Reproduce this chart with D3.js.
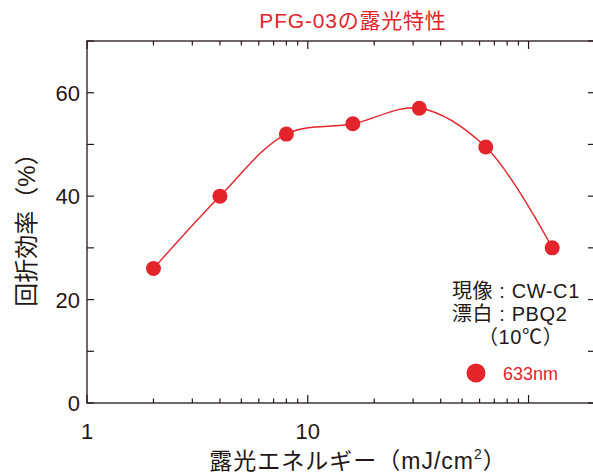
<!DOCTYPE html>
<html>
<head>
<meta charset="utf-8">
<script src="https://cdn.jsdelivr.net/npm/d3@7"></script>
<style>
  body { margin: 0; background: #fff; }
  svg { display: block; }
  text { font-family: "Liberation Sans", "Noto Sans CJK JP", sans-serif; }
</style>
</head>
<body>
<div id="chart"></div>
<script>
// exposure (mJ/cm2) vs diffraction efficiency (%)
var exposure = [2, 4, 8, 16, 32, 64, 128]
var efficiency = [26, 40, 52, 54, 57, 49.5, 30]
var xTickLabels = [1, 10]
var yTickLabels = [0, 20, 40, 60]

var red = "#e3242b"

var width = 593, height = 475
var margin = {top: 41, right: -2, bottom: 72, left: 87}

var svg = d3.select("#chart")
    .append("svg")
    .attr("width", width)
    .attr("height", height)

var x = d3.scaleLog().domain([1, 200]).range([margin.left, width - margin.right])
var y = d3.scaleLinear().domain([0, 70]).range([height - margin.bottom, margin.top])

var x0 = x.range()[0], x1 = x.range()[1]
var y0 = y.range()[0], y1 = y.range()[1]

// frame
svg.append("rect")
  .attr("x", x0).attr("y", y1)
  .attr("width", x1 - x0).attr("height", y0 - y1)
  .attr("fill", "none").attr("stroke", "#231815").attr("stroke-width", 1.3)

// log ticks, bottom and top, pointing in
var xTicks = []
for (var d = 1; d <= 200; d *= 10) {
  for (var k = 1; k < 10; k++) if (d * k <= 200) xTicks.push(d * k)
}
xTicks.forEach(function(t) {
  var major = Math.abs(Math.log10(t) % 1) < 1e-9
  var len = major ? 8 : 4.5
  svg.append("line").attr("x1", x(t)).attr("x2", x(t))
    .attr("y1", y0).attr("y2", y0 - len)
    .attr("stroke", "#231815").attr("stroke-width", 1.2)
  svg.append("line").attr("x1", x(t)).attr("x2", x(t))
    .attr("y1", y1).attr("y2", y1 + len)
    .attr("stroke", "#231815").attr("stroke-width", 1.2)
})

// y ticks, left and right, pointing in
d3.range(0, 71, 10).forEach(function(t) {
  svg.append("line").attr("x1", x0).attr("x2", x0 + 7)
    .attr("y1", y(t)).attr("y2", y(t))
    .attr("stroke", "#231815").attr("stroke-width", 1.2)
  svg.append("line").attr("x1", x1).attr("x2", x1 - 7)
    .attr("y1", y(t)).attr("y2", y(t))
    .attr("stroke", "#231815").attr("stroke-width", 1.2)
})

svg.selectAll(".xl").data(xTickLabels).enter().append("text")
  .attr("x", function(d) { return x(d) })
  .attr("y", y0 + 36)
  .attr("text-anchor", "middle")
  .attr("font-size", 22)
  .attr("fill", "#231815")
  .text(function(d) { return d })

svg.selectAll(".yl").data(yTickLabels).enter().append("text")
  .attr("x", x0 - 7)
  .attr("y", function(d) { return y(d) + 8 })
  .attr("text-anchor", "end")
  .attr("font-size", 22)
  .attr("fill", "#231815")
  .text(function(d) { return d })

// axis titles
svg.append("text")
  .attr("transform", "translate(35," + ((y0 + y1) / 2 + 2) + ") rotate(-90)")
  .attr("text-anchor", "middle")
  .attr("font-size", 24)
  .attr("fill", "#231815")
  .text("回折効率（%）")

var xt = svg.append("text")
  .attr("x", 358)
  .attr("y", 469)
  .attr("text-anchor", "middle")
  .attr("font-size", 23)
  .attr("letter-spacing", 1)
  .attr("fill", "#231815")
xt.append("tspan").text("露光エネルギー（mJ/cm")
xt.append("tspan").attr("font-size", 14).attr("dy", -10).text("2")
xt.append("tspan").attr("dy", 10).text("）")

// title
svg.append("text")
  .attr("x", 353)
  .attr("y", 28)
  .attr("text-anchor", "middle")
  .attr("font-size", 21)
  .attr("letter-spacing", 0.8)
  .attr("fill", red)
  .text("PFG-03の露光特性")

// curve
var line = d3.line()
  .x(function(d, i) { return x(exposure[i]) })
  .y(function(d) { return y(d) })
  .curve(d3.curveCatmullRom.alpha(0.5))

svg.append("path")
  .datum(efficiency)
  .attr("d", line)
  .attr("fill", "none")
  .attr("stroke", red)
  .attr("stroke-width", 1.4)

svg.selectAll(".pt").data(efficiency).enter().append("circle")
  .attr("cx", function(d, i) { return x(exposure[i]) })
  .attr("cy", function(d) { return y(d) })
  .attr("r", 7.5)
  .attr("fill", red)

// notes
var notes = ["現像 : CW-C1", "漂白 : PBQ2", "（10℃）"]
svg.selectAll(".note").data(notes).enter().append("text")
  .attr("x", function(d, i) { return i == 2 ? 478 : 452 })
  .attr("y", function(d, i) { return 298 + i * 23 })
  .attr("font-size", 20)
  .attr("letter-spacing", 0.6)
  .attr("fill", "#231815")
  .text(function(d) { return d })

svg.append("circle").attr("cx", 476).attr("cy", 373).attr("r", 9.5).attr("fill", red)
svg.append("text")
  .attr("x", 503).attr("y", 380)
  .attr("font-size", 18)
  .attr("fill", red)
  .text("633nm")
</script>
</body>
</html>
